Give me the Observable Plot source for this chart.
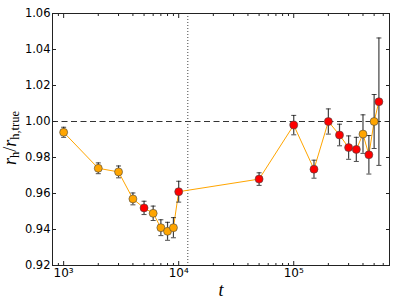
<!DOCTYPE html>
<html><head><meta charset="utf-8">
<script src="https://cdn.jsdelivr.net/npm/d3@7"></script>
<script src="https://cdn.jsdelivr.net/npm/@observablehq/plot@0.6"></script>
<style>body{margin:0;background:#fff;} svg{display:block;background:#fff}</style>
</head><body><div id="chart"></div>
<script>
const times  = [1000,2000,3000,4000,5000,6000,7000,8000,9000,10000,50000,100000,150000,200000,250000,300000,350000,400000,450000,500000,550000];
const ratios = [0.994,0.974,0.972,0.957,0.952,0.949,0.941,0.939,0.941,0.961,0.968,0.998,0.9735,1.000,0.9925,0.9855,0.9845,0.993,0.9815,1.000,1.011];
const errors = [0.0028,0.003,0.0033,0.0033,0.0037,0.004,0.0044,0.005,0.0056,0.0058,0.0035,0.0054,0.005,0.007,0.006,0.0065,0.0067,0.0107,0.0107,0.015,0.0354];
const groups = ["a","a","a","a","b","a","a","a","a","b","b","b","b","b","b","b","b","a","b","a","b"];
const groupColors = {a: "#FFA500", b: "#FF0000"};
const refValue = 1.0;
const markerTime = 12000;
const xDomain = [800, 680000];
const yDomain = [0.92, 1.06];
const xMajorTicks = [1000, 10000, 100000];
const xMajorLabels = ["10³", "10⁴", "10⁵"];
const xMinorTicks = [800, 900, 2000,3000,4000,5000,6000,7000,8000,9000, 20000,30000,40000,50000,60000,70000,80000,90000, 200000,300000,400000,500000,600000];
const yTicks = [0.92,0.94,0.96,0.98,1.00,1.02,1.04,1.06];

const data = times.map((t, i) => ({t, r: ratios[i], e: errors[i], g: groups[i]}));

const cap = {draw(ctx, size) { const w = Math.sqrt(size / Math.PI); ctx.moveTo(-w, 0); ctx.lineTo(w, 0); }};
const tickFont = "DejaVu Sans, sans-serif";

const chart = Plot.plot({
  width: 407, height: 307,
  marginLeft: 52, marginTop: 13, marginRight: 18, marginBottom: 42,
  style: {fontFamily: tickFont, fontSize: "11.5px", color: "#000", background: "#fff"},
  x: {type: "log", domain: xDomain},
  y: {domain: yDomain},
  marks: [
    Plot.ruleY([refValue], {stroke: "#333", strokeWidth: 1, strokeDasharray: "6,3.5"}),
    Plot.ruleX([markerTime], {stroke: "#444", strokeWidth: 1, strokeDasharray: "1,2"}),
    Plot.line(data, {x: "t", y: "r", stroke: "#FFA500", strokeWidth: 1}),
    Plot.ruleX(data, {x: "t", y1: d => d.r - d.e, y2: d => d.r + d.e, stroke: "#111", strokeOpacity: 0.8, strokeWidth: 1.2}),
    Plot.dot(data, {x: "t", y: d => d.r - d.e, symbol: cap, r: 2.5, stroke: "#111", strokeOpacity: 0.75, strokeWidth: 1}),
    Plot.dot(data, {x: "t", y: d => d.r + d.e, symbol: cap, r: 2.5, stroke: "#111", strokeOpacity: 0.75, strokeWidth: 1}),
    Plot.dot(data, {x: "t", y: "r", r: 4, fill: d => groupColors[d.g], stroke: "#444", strokeWidth: 0.6}),
    Plot.frame({stroke: "#222", strokeWidth: 1}),
    // inward ticks
    Plot.axisX({anchor: "bottom", ticks: xMajorTicks, tickSize: 4, dy: -4, text: null, label: null, stroke: "#222"}),
    Plot.axisX({anchor: "bottom", ticks: xMinorTicks, tickSize: 2, dy: -2, text: null, label: null, stroke: "#222"}),
    Plot.axisX({anchor: "top", ticks: xMajorTicks, tickSize: 4, dy: 4, text: null, label: null, stroke: "#222"}),
    Plot.axisX({anchor: "top", ticks: xMinorTicks, tickSize: 2, dy: 2, text: null, label: null, stroke: "#222"}),
    Plot.axisY({anchor: "left", ticks: yTicks, tickSize: 4, dx: 4, text: null, label: null, stroke: "#222"}),
    Plot.axisY({anchor: "right", ticks: yTicks, tickSize: 4, dx: -4, text: null, label: null, stroke: "#222"}),
    // labels
    Plot.axisX({anchor: "bottom", ticks: xMajorTicks, tickSize: 0, tickPadding: 3, fontSize: 12, tickFormat: d => xMajorLabels[xMajorTicks.indexOf(d)], label: null, fill: "#000"}),
    Plot.axisY({anchor: "left", ticks: yTicks, tickSize: 0, tickPadding: 2, tickFormat: d => d.toFixed(2), label: null, fill: "#000"}),
    Plot.text(["t"], {frameAnchor: "bottom", dy: 30, fontFamily: "Liberation Serif, serif", fontStyle: "italic", fontSize: 18, fill: "#000"})
  ]
});
document.getElementById("chart").appendChild(chart);

// y-axis label with subscripts
const svg = d3.select(chart);
const ylab = svg.append("text")
  .attr("transform", "translate(16,138) rotate(-90)")
  .attr("text-anchor", "middle")
  .attr("font-family", "Liberation Serif, serif")
  .attr("font-size", 18)
  .attr("fill", "#000");
ylab.append("tspan").attr("font-style", "italic").text("r");
ylab.append("tspan").attr("font-size", 12.5).attr("dy", 3).text("h");
ylab.append("tspan").attr("dy", -3).text("/");
ylab.append("tspan").attr("font-style", "italic").text("r");
ylab.append("tspan").attr("font-size", 12.5).attr("dy", 3).text("h,true");
</script>
</body></html>
